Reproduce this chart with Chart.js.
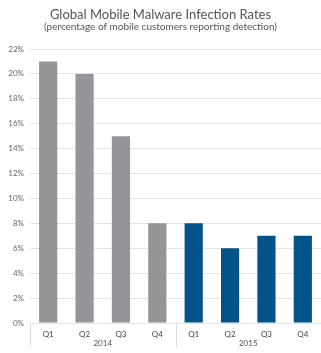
<!DOCTYPE html>
<html lang="en">
<head>
<meta charset="UTF-8">
<title>Global Mobile Malware Infection Rates</title>
<script src="https://cdn.jsdelivr.net/npm/chart.js"></script>
<style>
    body { margin: 0; background: #fff; }
    #wrap { width: 321px; height: 353px; position: relative; }
</style>
</head>
<body>
<div id="wrap"><canvas id="myChart"></canvas></div>
<script>
// data
const quarters = ['Q1', 'Q2', 'Q3', 'Q4', 'Q1', 'Q2', 'Q3', 'Q4'];
const years = ['2014', '2015'];
const infectionRates = [21, 20, 15, 8, 8, 6, 7, 7];
const barColors = ['#939598', '#939598', '#939598', '#939598', '#02538a', '#02538a', '#02538a', '#02538a'];
const yTicksMax = 22;

// vertical lines between the year groups, below the axis
const groupLines = {
    id: 'groupLines',
    afterDraw: (chart) => {
        const ctx = chart.ctx;
        const x = chart.scales.x;
        const step = x.getPixelForValue(1) - x.getPixelForValue(0);
        const bottom = chart.chartArea.bottom;
        [0, 4, 8].forEach((i) => {
            const px = Math.round(x.getPixelForValue(i) - step / 2) + 0.5;
            ctx.save();
            ctx.strokeStyle = '#dcdcdc';
            ctx.lineWidth = 1;
            ctx.beginPath();
            ctx.moveTo(px, bottom);
            ctx.lineTo(px, bottom + 24);
            ctx.stroke();
            ctx.restore();
        });
    }
};

const font = "Lato, 'Open Sans', sans-serif";

new Chart(document.getElementById('myChart'), {
    type: 'bar',
    data: {
        labels: quarters,
        datasets: [{
            data: infectionRates,
            backgroundColor: barColors,
            barPercentage: 0.5,
            categoryPercentage: 1
        }]
    },
    options: {
        responsive: true,
        maintainAspectRatio: false,
        animation: false,
        layout: { padding: { left: 0, right: 0, top: 0, bottom: 4 } },
        plugins: {
            legend: { display: false },
            tooltip: { enabled: false },
            title: {
                display: true,
                text: 'Global Mobile Malware Infection Rates',
                color: '#555',
                font: { family: font, size: 13, weight: 'normal', lineHeight: 1 },
                padding: { top: 8, bottom: 0 }
            },
            subtitle: {
                display: true,
                text: '(percentage of mobile customers reporting detection)',
                color: '#555',
                font: { family: font, size: 10, weight: 'normal', lineHeight: 1.2 },
                padding: { top: 0, bottom: 16 }
            }
        },
        scales: {
            y: {
                min: 0,
                max: yTicksMax,
                ticks: {
                    stepSize: 2,
                    color: '#666',
                    padding: 6,
                    font: { family: font, size: 8 },
                    callback: (v) => v + '%'
                },
                grid: { color: '#e4e4e4', drawTicks: false },
                border: { display: false },
                afterFit: (scale) => { scale.width = 30; }
            },
            x: {
                ticks: { color: '#444', padding: 7, font: { family: font, size: 8 }, maxRotation: 0 },
                grid: { display: false, drawTicks: false },
                border: { display: false },
                afterFit: (scale) => { scale.height = 16; }
            },
            year: {
                type: 'category',
                axis: 'x',
                position: 'bottom',
                labels: years,
                offset: true,
                weight: 1,
                ticks: { color: '#555', padding: 0, font: { family: font, size: 8 }, maxRotation: 0 },
                grid: { display: false, drawTicks: false },
                border: { display: false },
                afterFit: (scale) => { scale.height = 10; }
            }
        }
    },
    plugins: [groupLines]
});
</script>
</body>
</html>
